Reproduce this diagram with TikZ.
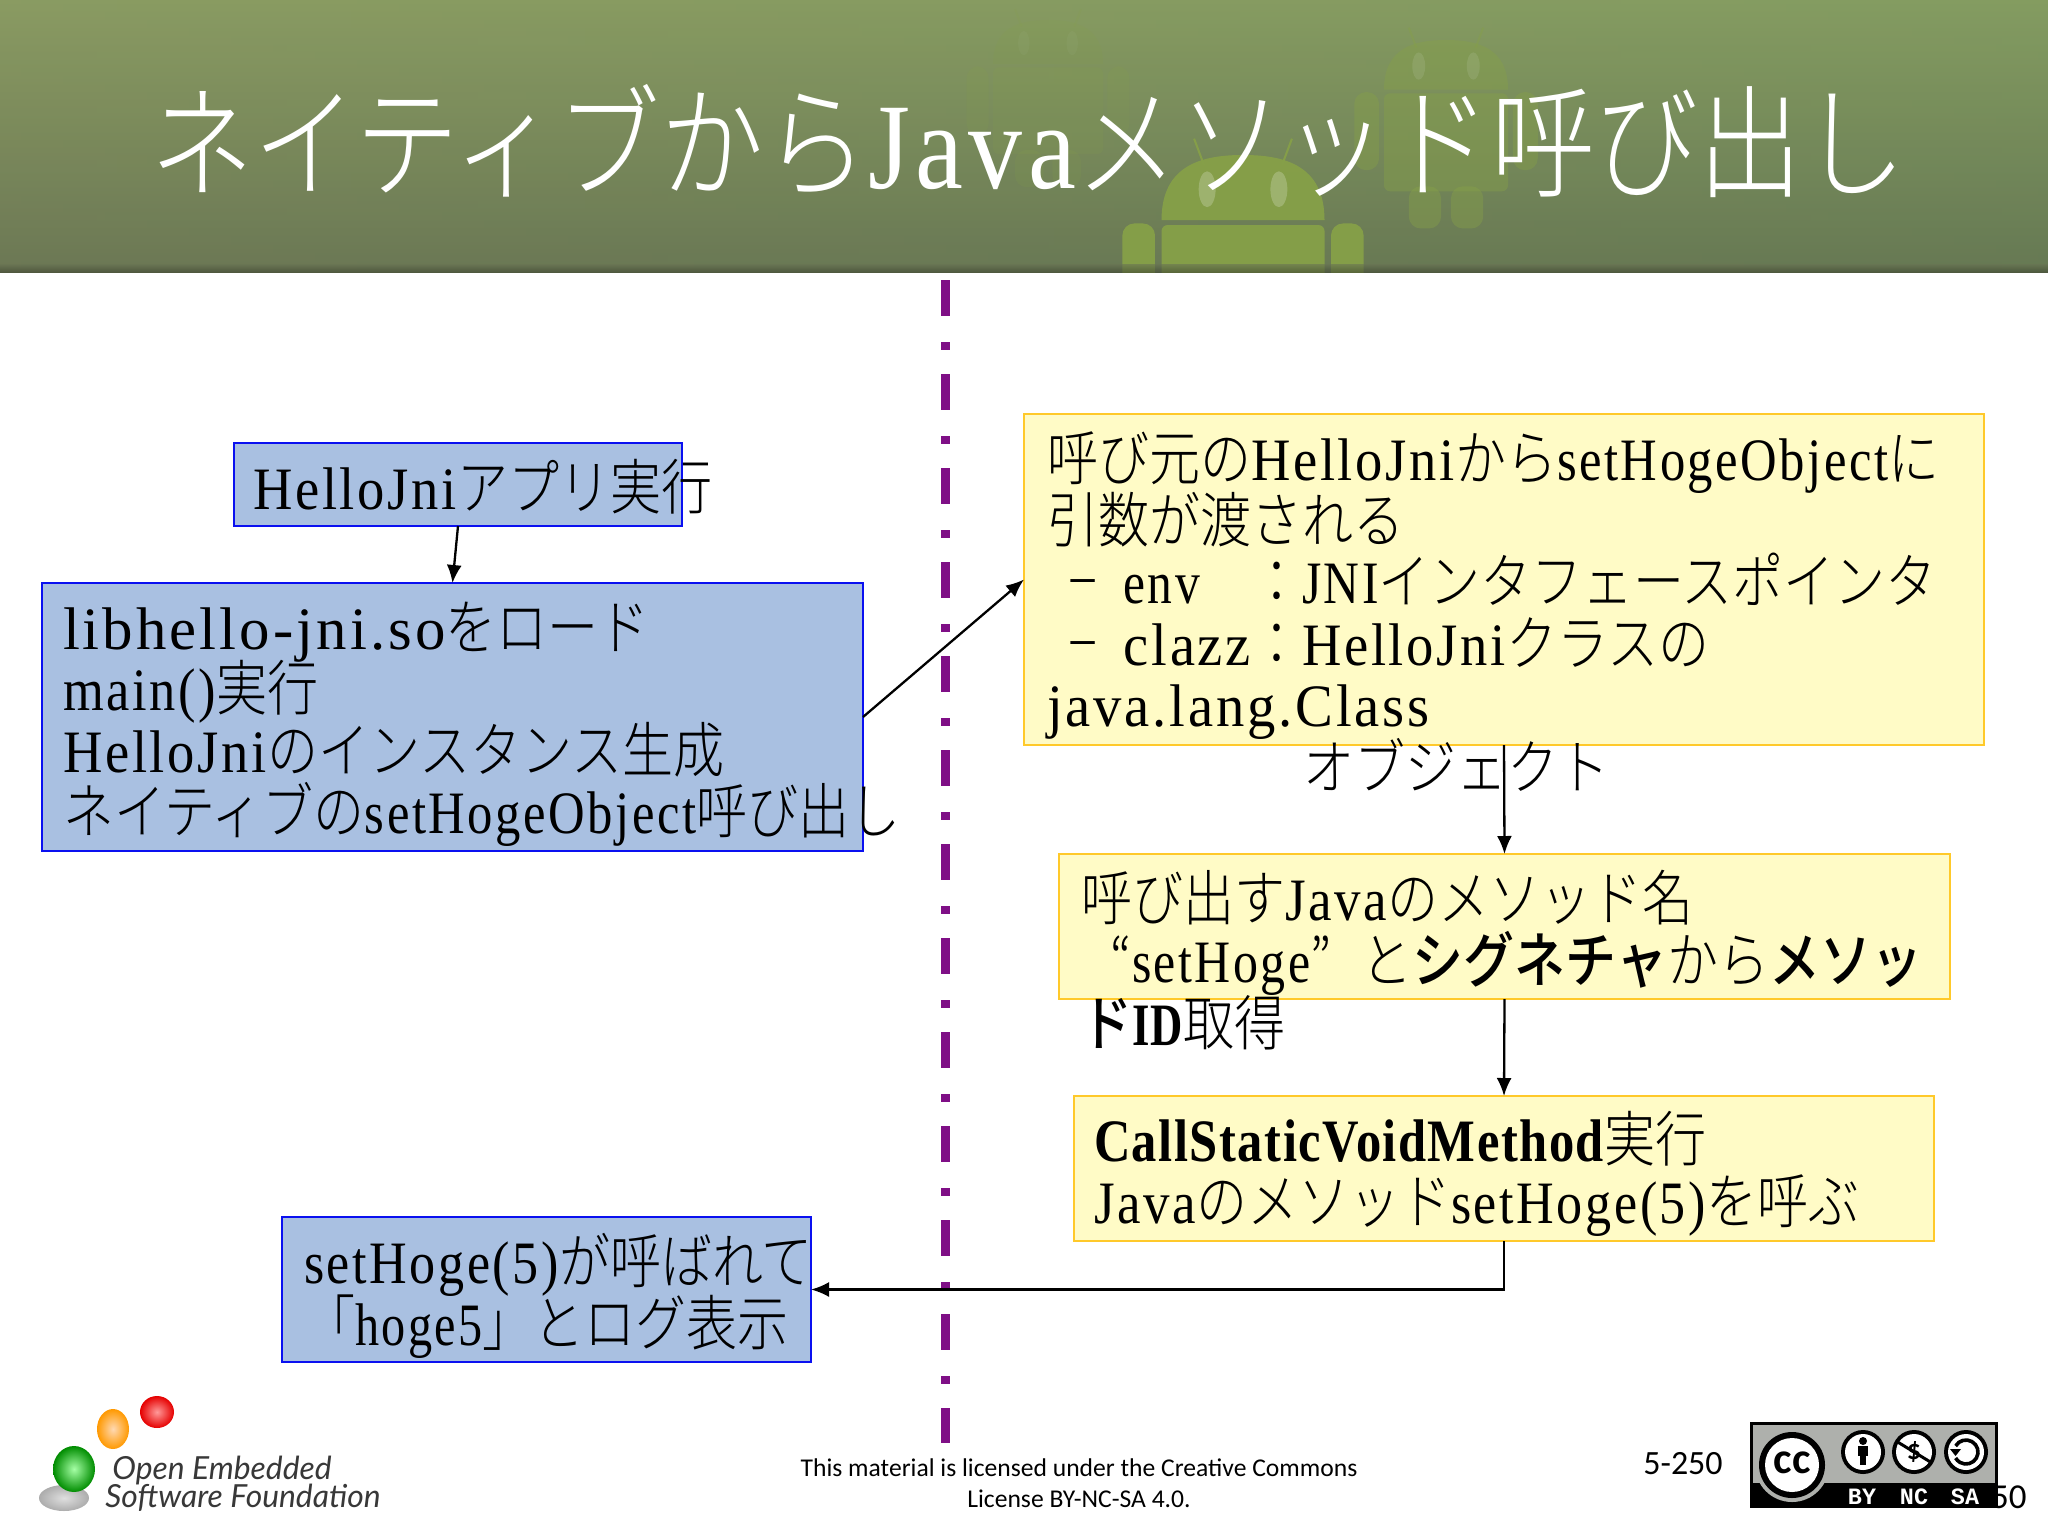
\documentclass[tikz,border=0pt]{standalone}
\usepackage{fontspec}
\usetikzlibrary{arrows.meta}
\setmainfont{Noto Sans CJK JP}[UprightFont={* Light},BoldFont={* Medium}]
\newfontfamily\latfont{Liberation Serif}[LetterSpace=5]
\newfontfamily\latbold{Liberation Serif}[LetterSpace=3,BoldFont={Liberation Serif Bold}]
\newfontfamily\badgefont{Liberation Mono}
\newfontfamily\footfont{Carlito}
\newfontfamily\logofont{Lato}
\newcommand\latn[2]{\resizebox{#1em}{\height}{\latfont #2}}
\newcommand\latb[2]{\resizebox{#1em}{\height}{\latbold\bfseries #2}}
\newcommand\hs[1]{\hspace*{#1em}}
\newcommand\dashch{\makebox[1em][c]{\scalebox{0.65}[1]{－}}}
\newcommand\tightlines{\lineskiplimit=-100pt\relax}
\newcommand\txtfont{\fontsize{25.5}{26.05}\selectfont}
\definecolor{bluefill}{HTML}{A9C0E1}
\definecolor{blueline}{HTML}{0A10F0}
\definecolor{yelfill}{HTML}{FFFBC6}
\definecolor{yelline}{HTML}{FFC92A}
\definecolor{purp}{HTML}{7F0F86}
\definecolor{droid}{HTML}{86A048}
\definecolor{bantop}{HTML}{8A9B62}
\definecolor{banbot}{HTML}{687353}
\definecolor{badgegray}{HTML}{AEB0AC}
\tikzset{
  bluebox/.style={draw=blueline,fill=bluefill,line width=1.4pt,inner sep=0,outer sep=0},
  yelbox/.style={draw=yelline,fill=yelfill,line width=1.4pt,inner sep=0,outer sep=0},
  txt/.style={anchor=west,inner sep=0,outer sep=0,align=left,text=black,
    font=\txtfont,execute at begin node=\tightlines,yscale=1.18,transform shape},
  conn/.style={line width=1.15pt,draw=black,-{Latex[length=9pt,width=7.5pt]}},
  foot/.style={inner sep=0,font=\footfont\fontsize{12.8}{14}\selectfont,text=black},
  logot/.style={anchor=west,inner sep=0,font=\logofont\itshape\fontsize{15.9}{18}\selectfont,text=black!78},
  badgelab/.style={inner sep=0,text=white,font=\badgefont\bfseries\fontsize{11.7}{12}\selectfont},
}
\newcommand\robot[4]{%
  \begin{scope}[shift={(#1,#2)},scale=#3,opacity=#4]
    \fill[droid] (-50,40) .. controls (-50,6) and (-25,0) .. (0,0) .. controls (25,0) and (50,6) .. (50,40) -- cycle;
    \draw[droid,line width=1pt] (-24,6) -- (-30,-10) (24,6) -- (30,-10);
    \fill[droid,rounded corners=3pt] (-50,43) -- (50,43) -- (50,122) -- (-50,122) -- cycle;
    \fill[droid,rounded corners=6pt] (-74,42) -- (-54,42) -- (-54,105) -- (-74,105) -- cycle;
    \fill[droid,rounded corners=6pt] (54,42) -- (74,42) -- (74,105) -- (54,105) -- cycle;
    \fill[droid,rounded corners=6pt] (-30,118) -- (-4,118) -- (-4,152) -- (-30,152) -- cycle;
    \fill[droid,rounded corners=6pt] (4,118) -- (30,118) -- (30,152) -- (4,152) -- cycle;
    \fill[white,opacity=.22*#4] (-22,21) ellipse [x radius=2.6pt,y radius=5.5pt];
    \fill[white,opacity=.22*#4] (22,21) ellipse [x radius=2.6pt,y radius=5.5pt];
  \end{scope}}
\begin{document}
\begin{tikzpicture}[x=0.5pt,y=-0.5pt]
\useasboundingbox (0,0) rectangle (2048,1536);
\fill[white] (0,0) rectangle (2048,1536);
% banner
\begin{scope}
  \clip (0,0) rectangle (2048,272);
  \shade[top color=bantop,bottom color=banbot] (0,0) rectangle (2048,272);
  \shade[left color=bantop,right color=green!30!gray,opacity=.12] (0,0) rectangle (2048,272);
  \robot{1048}{20}{1.1}{.15}
  \robot{1446}{40}{1.24}{.42}
  \robot{1243}{155}{1.63}{.95}
  \shade[top color=banbot,bottom color=black!40!banbot,opacity=.6] (0,264) rectangle (2048,272);
\end{scope}
% title
\node[txt,text=white,font=\fontsize{51.9}{52}\selectfont,yscale=1.0] (title) at (150,141) {ネイティブから\latn{2}{Java}メソッド呼び出し};
% divider
\coordinate (divtop) at (945.5,280);
\coordinate (divbot) at (945.5,1443);
\draw[purp,line width=4.5pt,dash pattern=on 18pt off 13pt on 4pt off 12pt] (divtop) -- (divbot);
% boxes
\node[bluebox,minimum width=224pt,minimum height=41.5pt] (a) at (458,484.5) {};
\node[bluebox,minimum width=410.5pt,minimum height=134pt] (b) at (452.5,717) {};
\node[yelbox,minimum width=480pt,minimum height=165.5pt] (y1) at (1504,579.5) {};
\node[yelbox,minimum width=445.5pt,minimum height=72.5pt] (y2) at (1504.5,926.5) {};
\node[yelbox,minimum width=430pt,minimum height=72.5pt] (y3) at (1504,1168.5) {};
\node[bluebox,minimum width=264.5pt,minimum height=72.5pt] (c) at (546.5,1289.5) {};
% connectors
\draw[conn] (a.south) -- (b.north);
\draw[conn] (b.east) -- (y1.west);
\draw[conn] (y1.south) -- (y2.north);
\draw[conn] (y2.south) -- (y3.north);
\draw[conn] (y3.south) |- (c.east);
% texts
\node[txt] (ta) at (253,487) {\latn{4}{HelloJni}アプリ実行};
\node[txt] (tb) at (63,724.5) {\latn{7.5}{libhello-jni.so}をロード\\
  \latn{3}{main()}実行\\
  \latn{4}{HelloJni}のインスタンス生成\\
  ネイティブの\latn{6.5}{setHogeObject}呼び出し};
\node[txt] (ty1) at (1047,586) {呼び元の\latn{4}{HelloJni}から\latn{6.5}{setHogeObject}に\\
  引数が渡される\\
  \hs{.2}\dashch\hs{.3}\latn{1.5}{env}\hs{1}：\latn{1.5}{JNI}インタフェースポインタ\\
  \hs{.2}\dashch\hs{.3}\latn{2.5}{clazz}：\latn{4}{HelloJni}クラスの\\
  \latn{7.5}{java.lang.Class}};
\node[txt] (ty1b) at (1303,765) {オブジェクト};
\node[txt] (ty2) at (1081,933) {呼び出す\latn{2}{Java}のメソッド名\\
  \makebox[1em][r]{“}\latn{3.5}{setHoge}\makebox[1em][l]{”}と{\bfseries シグネチャ}から{\bfseries メソッ}};
\node[txt] (ty2b) at (1081,1023) {{\bfseries ド}\latb{1}{ID}取得};
\node[txt] (ty3) at (1094,1174) {\latb{10}{CallStaticVoidMethod}実行\\
  \latn{2}{Java}のメソッド\latn{5}{setHoge(5)}を呼ぶ};
\node[txt] (tc) at (304,1296) {\latn{5}{setHoge(5)}が呼ばれて\\
  「\latn{2.5}{hoge5}」とログ表示};
% footer
\node[foot] (f1) at (1079,1468) {This material is licensed under the Creative Commons};
\node[foot] (f2) at (1079,1499) {License BY-NC-SA 4.0.};
\node[inner sep=0,font=\footfont\fontsize{17}{20}\selectfont] (pg) at (1683,1464) {5-250};
\node[inner sep=0,anchor=east,font=\footfont\fontsize{17.5}{20}\selectfont] (pg2) at (2027,1497) {50};
% logo
\shade[inner color=gray!25,outer color=gray!65] (64,1498) ellipse [x radius=12.5pt,y radius=6.5pt];
\shade[inner color=green!35!white,outer color=green!55!black] (74,1469) ellipse [x radius=10.5pt,y radius=11.5pt];
\shade[inner color=orange!30!white,outer color=orange!80!yellow] (113,1429) ellipse [x radius=8pt,y radius=10pt];
\shade[inner color=red!40!white,outer color=red!90!black] (157,1412) ellipse [x radius=8.5pt,y radius=8pt];
\node[logot] (lg1) at (112,1470) {Open Embedded};
\node[logot] (lg2) at (105,1498) {Software Foundation};
% cc badge
\fill[black] (1750,1422) rectangle (1998,1508);
\fill[badgegray] (1753,1425) rectangle (1995,1483);
\fill[badgegray] (1792,1465) circle [radius=18.5pt];
\fill[black] (1792,1465) circle [radius=16.5pt];
\fill[white] (1792,1465) circle [radius=13.5pt];
\node[inner sep=0,font=\footfont\bfseries\fontsize{22}{22}\selectfont] (cc) at (1792,1463) {cc};
\foreach \cx in {1863,1914,1966}{
  \fill[black] (\cx,1452) circle [radius=11pt];
  \fill[white] (\cx,1452) circle [radius=9pt];
}
\fill[black] (1863,1441) circle [radius=2pt];
\fill[black] (1858,1446) rectangle (1868,1456);
\fill[black] (1860,1456) rectangle (1866,1465);
\node[inner sep=0,font=\footfont\bfseries\fontsize{14}{14}\selectfont] (dol) at (1914,1452) {\$};
\draw[black,line width=1.5pt] (1896,1441) -- (1932,1463);
\draw[black,line width=1.8pt] (1955.6,1446) arc [start angle=150,end angle=-150,radius=6pt];
\fill[black] (1950,1449) -- (1961,1449) -- (1955.5,1456) -- cycle;
\node[badgelab] (by) at (1862,1497) {BY};
\node[badgelab] (nc) at (1914,1497) {NC};
\node[badgelab] (sa) at (1965,1497) {SA};
\end{tikzpicture}
\end{document}
